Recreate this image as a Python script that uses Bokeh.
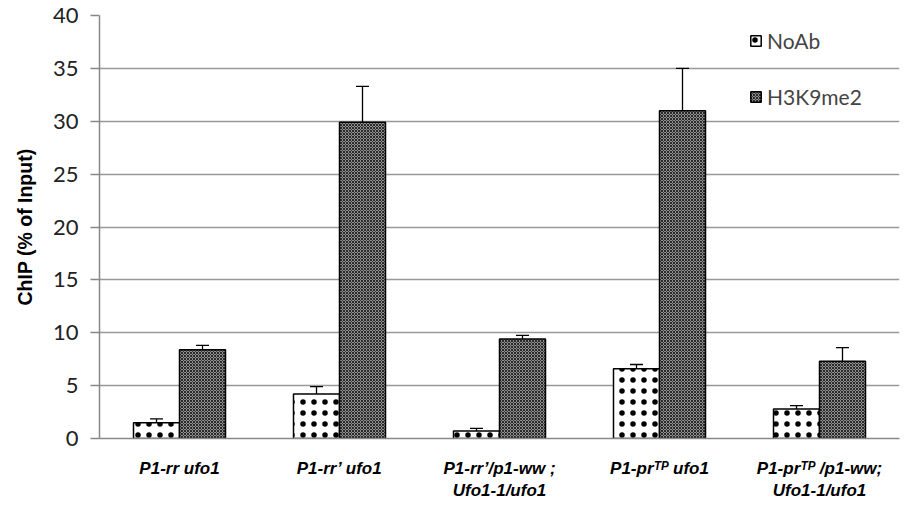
from bokeh.plotting import figure
from bokeh.models import ColumnDataSource, Whisker, Legend, LegendItem, FactorRange, TeeHead
from bokeh.transform import dodge
from bokeh.embed import file_html
from bokeh.resources import INLINE

categories = [
    "P1-rr ufo1",
    "P1-rr\u2019 ufo1",
    "P1-rr\u2019/p1-ww ;\nUfo1-1/ufo1",
    "P1-pr\u1D40\u1D3E ufo1",
    "P1-pr\u1D40\u1D3E /p1-ww;\nUfo1-1/ufo1",
]
noab = [1.5, 4.2, 0.7, 6.6, 2.8]
noab_err = [0.35, 0.7, 0.25, 0.4, 0.3]
h3k9 = [8.4, 29.9, 9.4, 31.0, 7.3]
h3k9_err = [0.4, 3.4, 0.35, 4.0, 1.3]
y_ticks = [0, 5, 10, 15, 20, 25, 30, 35, 40]

src = ColumnDataSource(dict(
    cat=categories,
    noab=noab, h3=h3k9,
    noab_up=[v + e for v, e in zip(noab, noab_err)],
    noab_lo=[v - e for v, e in zip(noab, noab_err)],
    h3_up=[v + e for v, e in zip(h3k9, h3k9_err)],
    h3_lo=[v - e for v, e in zip(h3k9, h3k9_err)],
))

p = figure(x_range=FactorRange(*categories), y_range=(0, 40),
           frame_width=800, frame_height=423, width=901, height=489,
           min_border_left=99, min_border_right=2, min_border_top=15, min_border_bottom=51,
           output_backend="svg", toolbar_location=None)
p.outline_line_color = None
p.background_fill_color = "white"

off = 0.14375
bw = 0.2875
r1 = p.vbar(x=dodge("cat", -off, range=p.x_range), top="noab", width=bw, source=src,
            fill_color="white", line_color="black", line_width=1.5,
            hatch_pattern="dot", hatch_color="black", hatch_scale=11, hatch_weight=0.5)
r2 = p.vbar(x=dodge("cat", off, range=p.x_range), top="h3", width=bw, source=src,
            fill_color="#8f8f8f", line_color="black", line_width=1.5,
            hatch_pattern="diagonal_cross", hatch_color="#2a2a2a", hatch_scale=3, hatch_weight=1)

for base, up, lo in [(dodge("cat", -off, range=p.x_range), "noab_up", "noab_lo"),
                     (dodge("cat", off, range=p.x_range), "h3_up", "h3_lo")]:
    w = Whisker(base=base, upper=up, lower=lo, source=src, line_color="black", line_width=1.3,
                upper_head=TeeHead(size=13, line_color="black", line_width=1.3),
                lower_head=TeeHead(size=13, line_color="black", line_width=1.3))
    p.add_layout(w)

# axes
p.yaxis.ticker = y_ticks
p.yaxis.axis_line_color = "#888888"
p.yaxis.axis_line_width = 1.5
p.yaxis.major_tick_line_color = "#888888"
p.yaxis.major_tick_line_width = 1.5
p.yaxis.major_tick_out = 9
p.yaxis.major_tick_in = 0
p.yaxis.minor_tick_line_color = None
p.yaxis.major_label_text_font = "Lato"
p.yaxis.major_label_text_font_size = "22px"
p.yaxis.major_label_text_color = "#222222"
p.yaxis.major_label_standoff = 12
p.yaxis.axis_label = "ChIP (% of Input)"
p.yaxis.axis_label_text_font = "Liberation Sans"
p.yaxis.axis_label_text_font_style = "bold"
p.yaxis.axis_label_text_font_size = "19.5px"
p.yaxis.axis_label_text_color = "black"
p.yaxis.axis_label_standoff = 14

p.xaxis.axis_line_color = "#888888"
p.xaxis.axis_line_width = 1.5
p.xaxis.major_tick_line_color = None
p.xaxis.minor_tick_line_color = None
p.xaxis.major_label_text_font = "Liberation Sans"
p.xaxis.major_label_text_font_style = "bold italic"
p.xaxis.major_label_text_font_size = "17px"
p.xaxis.major_label_text_color = "black"
p.xaxis.major_label_standoff = 14

p.xgrid.grid_line_color = None
p.ygrid.grid_line_color = "#999999"
p.ygrid.grid_line_width = 1.5

legend = Legend(items=[LegendItem(label="NoAb", renderers=[r1]),
                       LegendItem(label="H3K9me2", renderers=[r2])],
                location=(650, 329), orientation="vertical",
                background_fill_alpha=0, border_line_alpha=0,
                label_text_font="Lato", label_text_font_size="21px",
                label_height=25, glyph_width=13, glyph_height=13, spacing=31, padding=0, margin=0,
                label_standoff=5)
p.add_layout(legend, "center")

open("out.html", "w").write(file_html(p, INLINE))
